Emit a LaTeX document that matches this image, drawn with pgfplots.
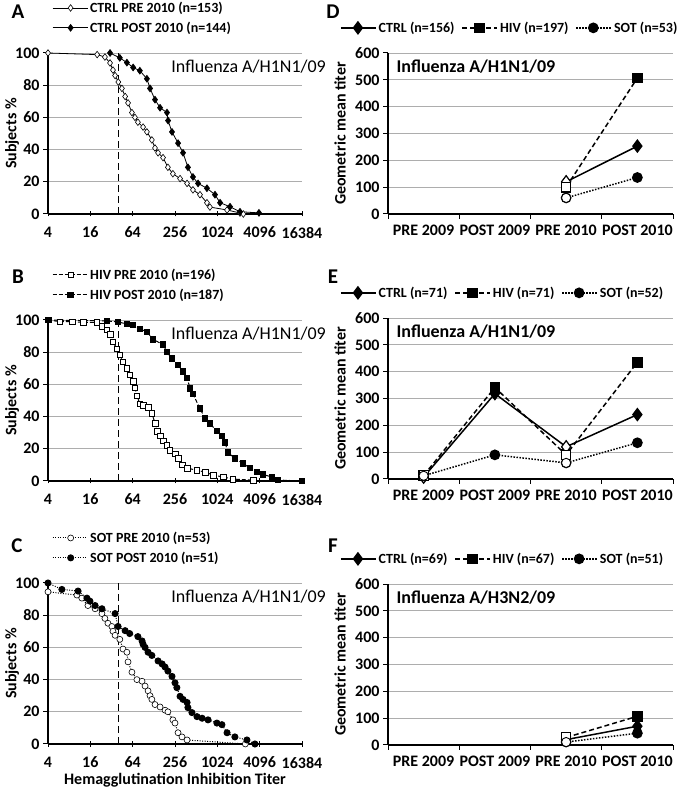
\documentclass[border=0pt]{standalone}
\usepackage{fontspec}
\setmainfont{Carlito}
\usepackage{pgfplots}
\pgfplotsset{compat=1.18}
\pgfplotsset{
  base/.style={scale only axis, anchor=south west, clip=false,
    axis x line*=bottom, axis y line*=left,
    axis line style={line width=1.3pt,-},
    ymajorgrids, grid style={line width=0.8pt, color=black!32},
    tick style={black, line width=1pt},
    /pgf/number format/assume math mode=true,
    tick label style={font=\fontsize{16}{17}\selectfont\bfseries},
    xticklabel style={yshift=-7pt},
    ytick align=outside, major tick length=5pt,
    legend style={draw=none, fill=none, inner sep=0pt,
      font=\fontsize{14}{15}\selectfont\bfseries},
    legend cell align=left,
  },
  leftp/.style={base, width=254pt, height=161pt,
    xmin=4, xmax=16384, ymin=0, ymax=100,
    xtick={4,16,64,256,1024,4096,16384},
    xticklabels={4,16,64,256,1024,4096,16384},
    ytick={0,20,40,60,80,100}, xtick align=center, 
    ylabel={Subjects \%},
    ylabel style={font=\fontsize{16}{17}\selectfont\bfseries, at={(axis description cs:0,0.5)}, anchor=center, yshift=36pt},
    legend image code/.code={\draw[mark repeat=2,mark phase=2] plot coordinates {(0pt,0pt) (18pt,0pt) (35pt,0pt)};},
    legend style={at={(axis description cs:0,1)}, anchor=south west, xshift=4pt, yshift=17pt, row sep=4pt},
  },
  rightp/.style={base, width=285pt, height=161pt,
    xmin=-0.5, xmax=3.5, ymin=0, ymax=600, ytick={0,100,200,300,400,500,600},
    xtick={-0.5,0.5,1.5,2.5,3.5}, xticklabels={,,,,}, xtick align=outside,
    extra x ticks={0,1,2,3},
    extra x tick labels={PRE 2009,POST 2009,PRE 2010,POST 2010},
    extra x tick style={major tick length=0pt},
    ylabel={Geometric mean titer},
    ylabel style={font=\fontsize{16}{17}\selectfont\bfseries, at={(axis description cs:0,0.5)}, anchor=center, yshift=48pt},
    legend columns=3,
    legend image code/.code={\draw[mark repeat=2,mark phase=2] plot coordinates {(0pt,0pt) (17pt,0pt) (35pt,0pt)};},
    legend style={at={(axis description cs:0,1)}, anchor=south west, xshift=-48pt, yshift=17pt,
      /tikz/every even column/.append style={column sep=5pt}},
  },
  ctrl/.style={black, solid, line width=1.5pt, mark=diamond*, mark size=5.8pt, mark options={solid, fill=black}},
  hiv/.style={black, dash pattern=on 5pt off 3pt, line width=1.5pt, mark=square*, mark size=4.6pt, mark options={solid, fill=black}},
  sot/.style={black, dash pattern=on 1.5pt off 1.5pt, line width=1.5pt, mark=*, mark size=4.6pt, mark options={solid, fill=black}},
  openm/.style={only marks, mark options={solid, fill=white, line width=0.9pt}, forget plot},
  thr/.style={black, dash pattern=on 7pt off 4pt, line width=1.3pt, forget plot},
}
\newcommand{\ptitle}[1]{\node[anchor=west, font=\fontsize{18}{20}\selectfont] at (rel axis cs:0.472,0.913) {#1};}
\newcommand{\rtitle}[1]{\node[anchor=west, font=\fontsize{18}{20}\selectfont\bfseries] at (rel axis cs:0.018,0.913) {#1};}
\begin{document}
\begin{tikzpicture}
\useasboundingbox (0pt,0pt) rectangle (678pt,788pt);
\tikzset{panel/.style={font=\fontsize{21}{22}\selectfont\bfseries}}
\node[panel] at (18pt,776pt) {A};
\node[panel] at (18pt,511pt) {B};
\node[panel] at (17pt,242pt) {C};
\node[panel] at (333pt,776pt) {D};
\node[panel] at (333pt,511pt) {E};
\node[panel] at (333pt,242pt) {F};

% ---------------- A
\begin{axis}[xmode=log, log basis x=2, leftp, at={(48pt,574pt)}]
\addplot[thr] coordinates {(40,0) (40,100)};
\addplot[black, line width=0.8pt, mark=diamond*, mark size=3.3pt, mark options={fill=white, line width=0.6pt}] coordinates {
(4,100) (20,99) (25.8,97.5) (30.5,93.8) (33.6,89.4) (36,86) (40,82) (45,78) (50,73) (55,69)
(62.5,63) (69,60) (76,57) (90,54) (102,51) (120,46) (133,41) (147,38) (173,35) (203,29)
(239,25) (302,22) (380,19) (461,15) (580,12) (729,7) (803,4.3) (1408,2.5) (2150,0.6) (2400,0)};
\addlegendentry{CTRL PRE 2010 (n=153)}
\addplot[black, line width=0.8pt, mark=diamond*, mark size=3.3pt, mark options={fill=black}] coordinates {
(30.5,100) (42,97) (53,94) (65,91) (81,89) (102,84) (113,78) (133,71) (157,66) (197,63)
(204,58) (232,51) (283,44) (333,38) (391,29) (461,23) (545,19) (729,16) (948,12) (1120,7)
(1552,4.5) (2150,1.4) (4000,0.7)};
\addlegendentry{CTRL POST 2010 (n=144)}
\ptitle{Influenza A/H1N1/09}
\end{axis}

% ---------------- B
\begin{axis}[xmode=log, log basis x=2, leftp, at={(48pt,307pt)}]
\addplot[thr] coordinates {(40,0) (40,100)};
\addplot[black, dash pattern=on 4pt off 2pt, line width=1pt, mark=square*, mark size=2.8pt, mark options={solid, fill=white, line width=0.6pt}] coordinates {
(4,100) (5.9,99) (8.8,99) (12.6,98.5) (19.8,98.5) (23.4,96) (27.6,94) (30.5,91) (33.6,86.5) (38.3,82)
(42,78.5) (46.6,74) (53,70) (58,66) (65,62) (69,58) (73.5,53) (81,48) (90,47) (106,45.6)
(120,42) (133,36) (142,31) (157,28) (173,25) (197,22) (217,19) (256,17) (283,14) (322,10)
(380,8) (526,6.7) (685,5.5) (891,3.7) (1235,2.5) (1710,1.2) (3300,0.5)};
\addlegendentry{HIV PRE 2010 (n=196)}
\addplot[black, dash pattern=on 4pt off 2pt, line width=1pt, mark=square*, mark size=2.8pt, mark options={solid, fill=black}] coordinates {
(4,100) (27.6,99.4) (39.7,98.8) (53,97.5) (65,97) (81,94.5) (102,92.6) (125,88) (173,84.7) (197,80)
(232,76) (283,72) (333,68) (380,64) (419,57.6) (461,54) (580,45) (685,39) (803,35.6) (1010,31)
(1190,28) (1315,24) (1450,17.8) (1820,14) (2370,11) (2980,8) (3730,5.5) (4580,4) (6130,2.5) (7490,0.6) (16384,0)};
\addlegendentry{HIV POST 2010 (n=187)}
\ptitle{Influenza A/H1N1/09}
\end{axis}

% ---------------- C
\begin{axis}[xmode=log, log basis x=2, leftp, at={(48pt,44pt)}, xlabel={Hemagglutination Inhibition Titer},
  xlabel style={font=\fontsize{16}{17}\selectfont\bfseries, inner sep=0pt, yshift=-2pt}]
\addplot[thr] coordinates {(40,0) (40,100)};
\addplot[black, dash pattern=on 1pt off 1.5pt, line width=1pt, mark=*, mark size=3pt, mark options={solid, fill=white, line width=0.6pt}] coordinates {
(4,94.5) (10.3,92.5) (12.1,90.6) (14.8,86) (18.7,84) (23.4,81) (25.8,78) (28.5,75) (32.4,73) (33.6,70)
(36,67.5) (42,65) (46.6,59) (53,57) (55,51) (62.5,44.6) (73.5,40) (87,39) (96,36) (106,33)
(113,30) (120,27.7) (133,24.5) (157,23) (185,21) (203,20) (239,15) (256,13) (283,7) (322,4.4) (380,2.5) (2560,0)};
\addlegendentry{SOT PRE 2010 (n=53)}
\addplot[black, dash pattern=on 1pt off 1.5pt, line width=1pt, mark=*, mark size=3pt, mark options={solid, fill=black}] coordinates {
(4,100) (6.3,96) (10.7,95) (14.3,90.6) (15.8,88.7) (18.7,86) (23.4,84) (36,81) (39.7,73) (50,70.4)
(58,68.6) (76,66.7) (87,64) (90,62) (96,60) (106,57) (120,55) (147,51.6) (168,49.7) (185,47.8)
(203,45.3) (232,42) (256,38) (272,35) (302,29.6) (333,27.7) (380,25.8) (391,22.6) (446,19.5) (526,17)
(622,16) (755,15) (1010,13) (1190,12) (1408,7) (1820,4.4) (2700,2.5) (3510,0)};
\addlegendentry{SOT POST 2010 (n=51)}
\ptitle{Influenza A/H1N1/09}
\end{axis}

% ---------------- D
\begin{axis}[rightp, at={(388pt,574pt)}]
\addplot[ctrl] coordinates {(2,120) (3,253)};
\addlegendentry{CTRL (n=156)}
\addplot[hiv] coordinates {(2,100) (3,507)};
\addlegendentry{HIV (n=197)}
\addplot[sot] coordinates {(2,60) (3,136)};
\addlegendentry{SOT (n=53)}
\addplot[openm, mark=diamond*, mark size=5.8pt] coordinates {(2,120)};
\addplot[openm, mark=square*, mark size=4.6pt] coordinates {(2,100)};
\addplot[openm, mark=*, mark size=4.6pt] coordinates {(2,60)};
\rtitle{Influenza A/H1N1/09}
\end{axis}

% ---------------- E
\begin{axis}[rightp, at={(388pt,309pt)}]
\addplot[ctrl] coordinates {(0,7) (1,318) (2,120) (3,240)};
\addlegendentry{CTRL (n=71)}
\addplot[hiv] coordinates {(0,13) (1,341) (2,90) (3,435)};
\addlegendentry{HIV (n=71)}
\addplot[sot] coordinates {(0,12) (1,90) (2,60) (3,135)};
\addlegendentry{SOT (n=52)}
\addplot[openm, mark=diamond*, mark size=5.8pt] coordinates {(0,7) (2,120)};
\addplot[openm, mark=square*, mark size=4.6pt] coordinates {(0,13) (2,90)};
\addplot[openm, mark=*, mark size=4.6pt] coordinates {(0,12) (2,60)};
\rtitle{Influenza A/H1N1/09}
\end{axis}

% ---------------- F
\begin{axis}[rightp, at={(388pt,43pt)}]
\addplot[ctrl] coordinates {(2,20) (3,70)};
\addlegendentry{CTRL (n=69)}
\addplot[hiv] coordinates {(2,28) (3,107)};
\addlegendentry{HIV (n=67)}
\addplot[sot] coordinates {(2,11) (3,44)};
\addlegendentry{SOT (n=51)}
\addplot[openm, mark=diamond*, mark size=5.8pt] coordinates {(2,20)};
\addplot[openm, mark=square*, mark size=4.6pt] coordinates {(2,28)};
\addplot[openm, mark=*, mark size=4.6pt] coordinates {(2,11)};
\rtitle{Influenza A/H3N2/09}
\end{axis}
\end{tikzpicture}
\end{document}
